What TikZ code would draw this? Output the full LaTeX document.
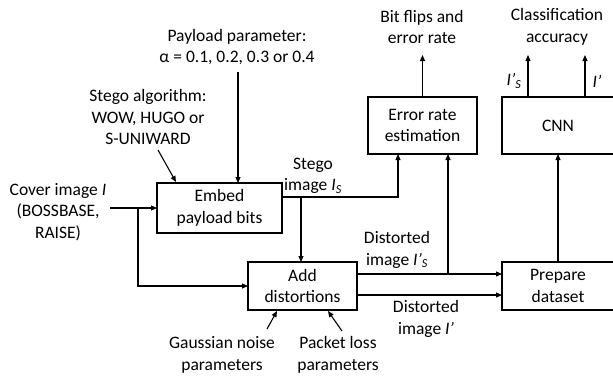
\documentclass[tikz,border=0pt]{standalone}
\usepackage{fontspec}
\setmainfont{Carlito}
\usetikzlibrary{arrows.meta}
\begin{document}
\begin{tikzpicture}[x=1pt,y=-1pt,
  every node/.style={inner sep=0pt,outer sep=0pt},
  box/.style={draw,line width=1.1pt,align=center,font=\fontsize{17.5}{21.5}\selectfont},
  lbl/.style={align=center,font=\fontsize{17.5}{21.5}\selectfont},
  arr/.style={line width=1.1pt,-{Triangle[length=6pt,width=5pt]}},
  ln/.style={line width=1.1pt}]
\useasboundingbox (0,0) rectangle (613,375);
% boxes
\node[box,minimum width=125pt,minimum height=50pt] (embed) at (219.5,208) {Embed\\payload bits};
\node[box,minimum width=109pt,minimum height=48pt] (add) at (302.5,286) {Add\\distortions};
\node[box,minimum width=112pt,minimum height=48pt] (prep) at (558,286) {Prepare\\dataset};
\node[box,minimum width=109pt,minimum height=57pt] (err) at (422.5,125.5) {Error rate\\estimation};
\node[box,minimum width=112pt,minimum height=57pt] (cnn) at (558,125.5) {CNN};
% labels
\node[lbl] (bf) at (422,27) {Bit flips and\\error rate};
\node[lbl] (ca) at (557,27) {Classification\\accuracy};
\node[lbl] (is) at (514,81) {\textit{I’\textsubscript{S}}};
\node[lbl] (ip) at (597,81) {\textit{I’}};
\node[lbl] (pay) at (237,47) {Payload parameter:\\α = 0.1, 0.2, 0.3 or 0.4};
\node[lbl] (alg) at (148,117) {Stego algorithm:\\WOW, HUGO or\\S-UNIWARD};
\node[lbl] (cov) at (58,212) {Cover image \textit{I}\\(BOSSBASE,\\RAISE)};
\node[lbl] (stg) at (313,176) {Stego\\image \textit{I\textsubscript{S}}};
\node[lbl] (dis) at (397,250) {Distorted\\image \textit{I’\textsubscript{S}}};
\node[lbl] (dip) at (426,319) {Distorted\\image \textit{I’}};
\node[lbl] (gau) at (222,355) {Gaussian noise\\parameters};
\node[lbl] (pkt) at (338,355) {Packet loss\\parameters};
% coordinates
\coordinate (cv) at (110,208);
\coordinate (cs) at (138,208);
\coordinate (s0) at (282,197);
\coordinate (s1) at (398,197);
\coordinate (s2) at (301,197);
\coordinate (d0) at (357,274);
\coordinate (d1) at (448,274);
\coordinate (d2) at (357,295);
\coordinate (o0) at (422.5,55);
\coordinate (o1) at (528,55);
\coordinate (o2) at (585,55);
\coordinate (pa) at (238,72);
\coordinate (al0) at (158,150);
\coordinate (al1) at (176,182);
\coordinate (g0) at (267,329);
\coordinate (g1) at (277,311);
\coordinate (p0) at (342,331);
\coordinate (p1) at (328,311);
% connectors
\draw[arr] (cv) -- (embed.west);
\draw[arr] (cs) |- (add.west);
\draw[arr] (s0) -- (s1) -- (s1 |- err.south);
\draw[arr] (s2) -- (s2 |- add.north);
\draw[arr] (d0) -- (d0 -| prep.west);
\draw[arr] (d1) -- (d1 |- err.south);
\draw[arr] (d2) -- (d2 -| prep.west);
\draw[arr] (prep.north) -- (cnn.south);
\draw[arr] (err.north) -- (o0);
\draw[arr] (o1 |- cnn.north) -- (o1);
\draw[arr] (o2 |- cnn.north) -- (o2);
\draw[arr] (pa) -- (pa |- embed.north);
\draw[arr] (al0) -- (al1);
\draw[arr] (g0) -- (g1);
\draw[arr] (p0) -- (p1);
\end{tikzpicture}
\end{document}
